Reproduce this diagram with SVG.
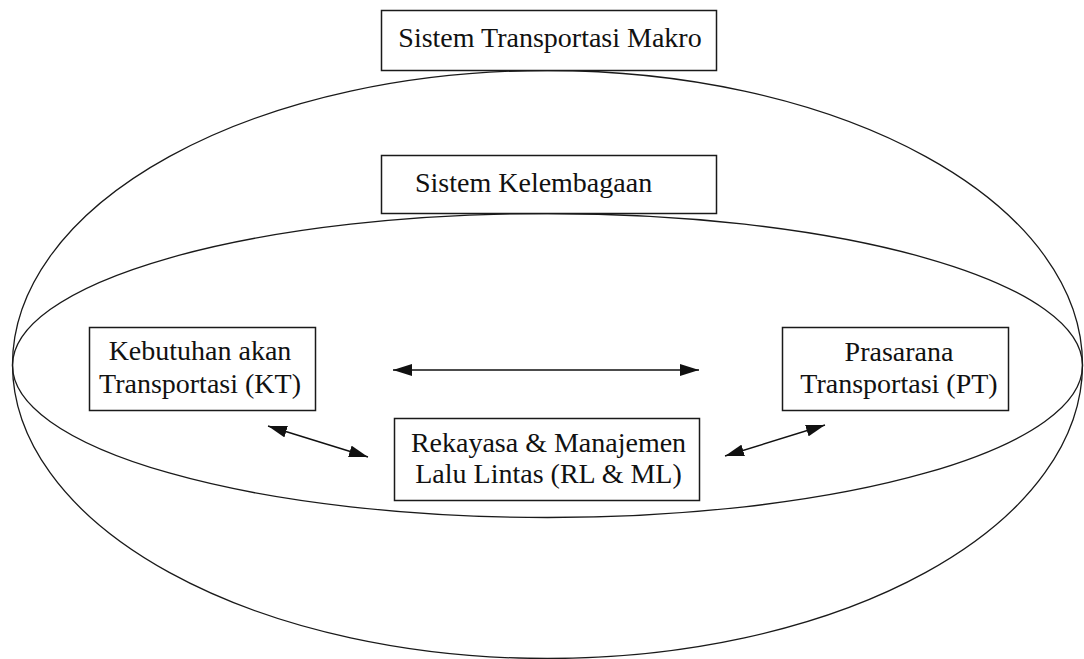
<svg xmlns="http://www.w3.org/2000/svg" width="1084" height="659" viewBox="0 0 1084 659">
  <style>
    .box { fill: #ffffff; stroke: #1a1a1a; stroke-width: 1.5; }
    .ell { fill: none; stroke: #1a1a1a; stroke-width: 1.3; }
    .lbl { font-family: "Liberation Serif", "Times New Roman", serif; font-size: 28px; fill: #111111; }
    .mid { text-anchor: middle; }
    .conn { stroke: #111111; stroke-width: 1.4; fill: none; marker-start: url(#ah); marker-end: url(#ah); }
  </style>
  <defs>
    <marker id="ah" viewBox="0 0 19 12" refX="19" refY="6" markerWidth="19" markerHeight="12" markerUnits="userSpaceOnUse" orient="auto-start-reverse">
      <path d="M0,0 L19,6 L0,12 z" fill="#111111"/>
    </marker>
  </defs>
  <rect width="1084" height="659" fill="#ffffff"/>

  <g id="ellipses">
    <ellipse id="outer-ellipse" class="ell" cx="547.5" cy="364.5" rx="535" ry="294"/>
    <ellipse id="inner-ellipse" class="ell" cx="547.5" cy="365.5" rx="535" ry="152"/>
  </g>

  <g id="node-makro">
    <rect class="box" x="381.5" y="10.5" width="335" height="60"/>
    <text class="lbl mid" x="550" y="47">Sistem Transportasi Makro</text>
  </g>

  <g id="node-kelembagaan">
    <rect class="box" x="381.5" y="155.5" width="335" height="58"/>
    <text class="lbl" x="415" y="192">Sistem Kelembagaan</text>
  </g>

  <g id="node-kt">
    <rect class="box" x="89.5" y="327.5" width="226" height="83"/>
    <text class="lbl mid" x="200" y="360">Kebutuhan akan</text>
    <text class="lbl mid" x="200" y="393">Transportasi (KT)</text>
  </g>

  <g id="node-pt">
    <rect class="box" x="782.5" y="327.5" width="226" height="83"/>
    <text class="lbl mid" x="899" y="361">Prasarana</text>
    <text class="lbl mid" x="899" y="393">Transportasi (PT)</text>
  </g>

  <g id="node-rl">
    <rect class="box" x="394.5" y="418.5" width="305" height="82"/>
    <text class="lbl mid" x="548.5" y="452">Rekayasa &amp; Manajemen</text>
    <text class="lbl mid" x="548.5" y="483">Lalu Lintas (RL &amp; ML)</text>
  </g>

  <g id="connectors">
    <line class="conn" x1="393" y1="370" x2="699" y2="370"/>
    <line class="conn" x1="268" y1="426" x2="368" y2="457"/>
    <line class="conn" x1="725" y1="456" x2="825" y2="425"/>
  </g>
</svg>
